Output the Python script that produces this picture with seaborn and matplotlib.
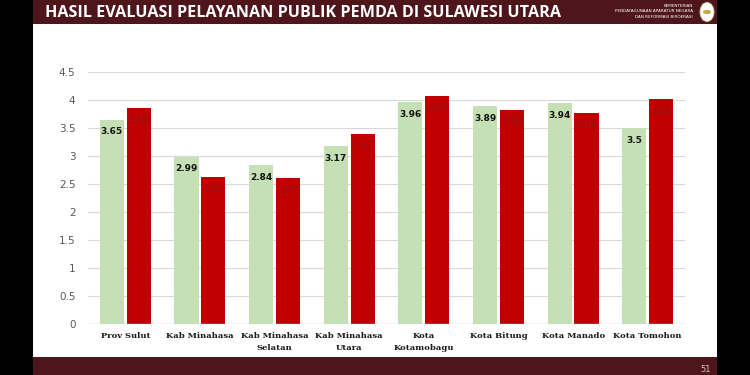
import matplotlib
matplotlib.use("Agg")
import matplotlib.pyplot as plt
import matplotlib.patches as mpatches
import seaborn as sns
import pandas as pd
from matplotlib.ticker import FuncFormatter

categories = ["Prov Sulut", "Kab Minahasa", "Kab Minahasa\nSelatan", "Kab Minahasa\nUtara",
              "Kota\nKotamobagu", "Kota Bitung", "Kota Manado", "Kota Tomohon"]
series_names = ["2022", "2023"]
values_green = [3.65, 2.99, 2.84, 3.17, 3.96, 3.89, 3.94, 3.5]
values_red = [3.86, 2.62, 2.6, 3.4, 4.07, 3.83, 3.76, 4.02]
y_ticks = [0, 0.5, 1, 1.5, 2, 2.5, 3, 3.5, 4, 4.5]

title = "HASIL EVALUASI PELAYANAN PUBLIK PEMDA DI SULAWESI UTARA"
org_lines = ["KEMENTERIAN", "PENDAYAGUNAAN APARATUR NEGARA", "DAN REFORMASI BIROKRASI"]
page_no = "51"

GREEN = "#c5e0b4"
RED = "#c00000"
MAROON = "#4e161b"

df = pd.DataFrame({
    "cat": categories * 2,
    "series": [series_names[0]] * len(categories) + [series_names[1]] * len(categories),
    "value": values_green + values_red,
})

W, H = 750, 375
fig = plt.figure(figsize=(7.5, 3.75), dpi=100)
fig.patch.set_facecolor("black")

def fx(x):
    return x / W

def fy(y):
    return 1 - y / H

# slide white background
fig.patches.append(mpatches.Rectangle((fx(33), fy(357)), fx(717 - 33), (357 - 24) / H,
                                      transform=fig.transFigure, facecolor="white",
                                      edgecolor="none", zorder=0))
# header bar
fig.patches.append(mpatches.Rectangle((fx(33), fy(24)), fx(717 - 33), 24 / H,
                                      transform=fig.transFigure, facecolor=MAROON,
                                      edgecolor="none", zorder=0))
# footer bar
fig.patches.append(mpatches.Rectangle((fx(33), 0), fx(717 - 33), 18 / H,
                                      transform=fig.transFigure, facecolor=MAROON,
                                      edgecolor="none", zorder=0))

fig.text(fx(45), fy(13), title, color="white", fontsize=11.6, fontweight="bold",
         family="Open Sans", va="center", ha="left")
for i, line in enumerate(org_lines):
    fig.text(fx(693), fy(6 + i * 5.5), line, color="white", fontsize=3.0,
             family="DejaVu Sans", va="center", ha="right")
fig.patches.append(mpatches.Ellipse((fx(707), fy(12)), fx(14), 19 / H,
                                    transform=fig.transFigure, facecolor="white",
                                    edgecolor="#d8c9a0", lw=0.6, zorder=2))
fig.patches.append(mpatches.Circle((fx(707), fy(12)), fx(4),
                                   transform=fig.transFigure, facecolor="#c9a23a",
                                   edgecolor="none", zorder=3))
fig.text(fx(706), fy(369), page_no, color="#d9c8c8", fontsize=6, ha="center", va="center")

ax = fig.add_axes([fx(88), fy(324), fx(685 - 88), (324 - 72) / H])
ax.set_zorder(5)
ax.set_facecolor("none")
sns.barplot(data=df, x="cat", y="value", hue="series", order=categories,
            hue_order=series_names, palette=[GREEN, RED], width=0.72, gap=0.1,
            ax=ax, legend=False, saturation=1)

ax.set_ylim(0, 4.5)
ax.set_xlim(-0.5, len(categories) - 0.5)
ax.set_yticks(y_ticks)
ax.yaxis.set_major_formatter(FuncFormatter(lambda v, p: f"{v:g}"))
ax.grid(axis="y", color="#d9d9d9", lw=0.8)
ax.set_axisbelow(True)
for s in ax.spines.values():
    s.set_visible(False)
ax.axhline(0, color="#d0d0d0", lw=1, zorder=1)
ax.tick_params(axis="y", length=0, labelsize=7.5, labelcolor="#595959", pad=9)
ax.tick_params(axis="x", length=0, pad=6)
ax.set_xlabel("")
ax.set_ylabel("")
for lbl in ax.get_xticklabels():
    lbl.set_family("DejaVu Serif")
    lbl.set_fontweight("bold")
    lbl.set_fontsize(6.0)
    lbl.set_color("#1a1a1a")
    lbl.set_linespacing(1.6)

conts = ax.containers
ax.bar_label(conts[0], labels=[f"{v:g}" for v in values_green], padding=-12,
             fontsize=6.5, fontweight="bold", color="#111111")
ax.bar_label(conts[1], labels=[f"{v:g}" for v in values_red], padding=-12,
             fontsize=6.5, color="#8a1a1a")

fig.savefig("out.png", dpi=100, facecolor=fig.get_facecolor())
